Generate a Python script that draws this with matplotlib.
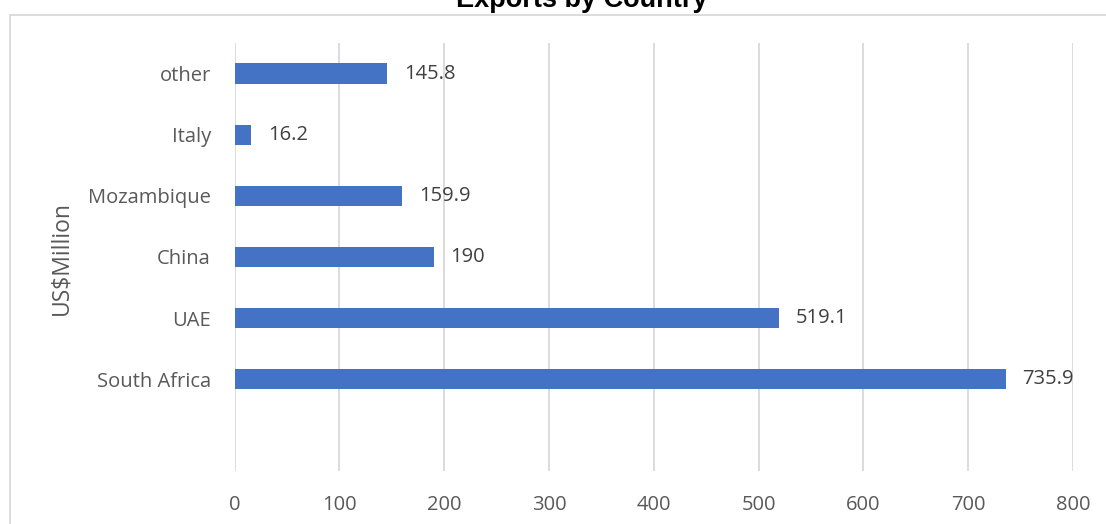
import matplotlib.pyplot as plt
import matplotlib.patches as mpatches

# datos
countries = ["", "South Africa", "UAE", "China", "Mozambique", "Italy", "other"]
exports = [None, 735.9, 519.1, 190, 159.9, 16.2, 145.8]
xticks = [0, 100, 200, 300, 400, 500, 600, 700, 800]

plt.rcParams['font.family'] = ['Open Sans', 'DejaVu Sans']

W, H = 1106, 524
fig = plt.figure(figsize=(W / 100, H / 100), dpi=100)
fig.patch.set_facecolor("white")

# ejes en pixeles: x 234.5 -> 1073, y 43 -> 471
x0, x1 = 234.5, 1073
y0, y1 = 43, 471
ax = fig.add_axes([x0 / W, 1 - y1 / H, (x1 - x0) / W, (y1 - y0) / H])

pos = list(range(len(countries)))
vals = [v if v is not None else 0 for v in exports]
ax.barh(pos, vals, height=0.33, color="#4472C4", zorder=3)

for p, v in zip(pos, exports):
    if v is None:
        continue
    ax.text(v + 16, p, f"{v:g}", va="center", ha="left", fontsize=14.5, color="#404040")

ax.set_xlim(0, 800)
ax.set_ylim(-0.5, len(countries) - 0.5)
ax.set_xticks(xticks)
ax.set_xticklabels([str(t) for t in xticks])
ax.set_yticks(pos)
ax.set_yticklabels(countries)
ax.tick_params(axis="both", length=0, labelsize=14.5, labelcolor="#595959")
ax.tick_params(axis="x", pad=17)
ax.tick_params(axis="y", pad=17)
ax.grid(axis="x", color="#d9d9d9", linewidth=1.3, zorder=0)
for s in ax.spines.values():
    s.set_visible(False)

fig.text(61 / W, 1 - 258 / H, "US$Million", rotation=90, ha="center", va="center",
         fontsize=16.5, color="#595959")
fig.text(582 / W, 1 - 7 / H, "Exports by Country", ha="center", va="baseline",
         fontsize=19.5, fontweight="bold", family=["Liberation Sans", "DejaVu Sans"], color="black")

# marco del area del grafico
rect = mpatches.Rectangle((9.5 / W, -0.1), 1.2, 1 - 14.5 / H + 0.1, transform=fig.transFigure,
                          fill=False, edgecolor="#d9d9d9", linewidth=1.3)
fig.patches.append(rect)

plt.savefig("out.png", dpi=100, facecolor="white")
